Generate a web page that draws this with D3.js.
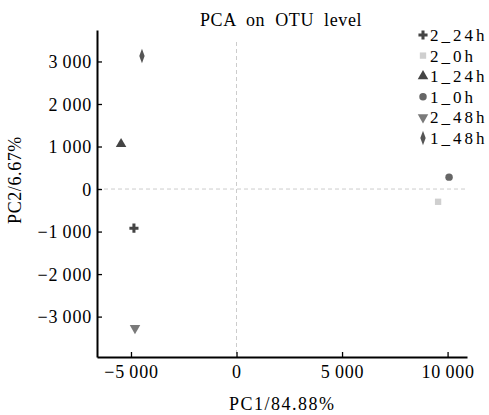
<!DOCTYPE html>
<html>
<head>
<meta charset="utf-8">
<script src="https://cdn.jsdelivr.net/npm/d3@7"></script>
<style>
body{margin:0;background:#fff;}
svg text{font-family:"Liberation Serif","Times New Roman",Times,"DejaVu Serif",serif !important;fill:#000;}
</style>
</head>
<body>
<script>
// samples as drawn in the legend order
var groups = ['2_24h','2_0h','1_24h','1_0h','2_48h','1_48h'];
var pc1 = [-4860, 9550, -5470, 10070, -4810, -4480];
var pc2 = [-920, -300, 1060, 280, -3270, 3130];
var xticks = [-5000, 0, 5000, 10000];
var yticks = [-3000, -2000, -1000, 0, 1000, 2000, 3000];

var colors = {'2_24h':'#444','2_0h':'#cfcfcf','1_24h':'#444','1_0h':'#666','2_48h':'#7a7a7a','1_48h':'#555'};

var W = 489, H = 415;
var svg = d3.select('body').append('svg').attr('width', W).attr('height', H);

var x = d3.scaleLinear().domain([-6610, 10920]).range([97, 467]);
var y = d3.scaleLinear().domain([-3950, 3740]).range([357, 30]);

var fmt = function(v){
	var s = d3.format(',')(Math.abs(v)).replace(/,/g, '\u2009');
	return (v < 0 ? '\u2212' : '') + s;
};

// zero reference lines
svg.append('line').attr('x1', x(0)).attr('x2', x(0)).attr('y1', 42).attr('y2', y.range()[0])
	.attr('stroke', '#ccc').attr('stroke-dasharray', '4,3');
svg.append('line').attr('x1', x.range()[0]).attr('x2', x.range()[1]).attr('y1', y(0)).attr('y2', y(0))
	.attr('stroke', '#ccc').attr('stroke-dasharray', '4,3');

var gx = svg.append('g').attr('transform', 'translate(0,357)')
	.call(d3.axisBottom(x).tickValues(xticks).tickSizeInner(-5).tickSizeOuter(0).tickFormat(fmt));
var gy = svg.append('g').attr('transform', 'translate(97,0)')
	.call(d3.axisLeft(y).tickValues(yticks).tickSizeInner(-5).tickSizeOuter(0).tickFormat(fmt));

[gx, gy].forEach(function(g){
	g.attr('font-family', null).attr('font-size', null);
	g.select('.domain').attr('stroke', '#000').attr('stroke-width', 2);
	g.selectAll('.tick line').attr('stroke', '#000').attr('stroke-width', 1.3);
	g.selectAll('.tick text').style('font-size', '18px').attr('letter-spacing', 0.8);
});
gx.selectAll('.tick text').attr('y', 8);
gy.selectAll('.tick text').attr('x', -5).attr('dy', '0.35em');

function marker(name){
	var sym = {
		'2_24h': d3.symbolCross, '2_0h': d3.symbolSquare, '1_24h': d3.symbolTriangle,
		'1_0h': d3.symbolCircle, '2_48h': d3.symbolTriangle, '1_48h': d3.symbolDiamond
	}[name];
	var size = {'2_24h':46,'2_0h':40,'1_24h':48,'1_0h':44,'2_48h':48,'1_48h':50}[name];
	return d3.symbol().type(sym).size(size)();
}
function markerTransform(name){
	if (name == '2_48h') return ' rotate(180)';
	if (name == '1_48h') return ' scale(0.7,1.1)';
	return '';
}

var pts = groups.map(function(g, i){ return {name:g, x:pc1[i], y:pc2[i]}; });
svg.append('g').selectAll('path').data(pts).enter().append('path')
	.attr('d', d => marker(d.name))
	.attr('fill', d => colors[d.name])
	.attr('transform', d => 'translate(' + x(d.x) + ',' + y(d.y) + ')' + markerTransform(d.name));

// legend
var leg = svg.append('g').selectAll('g').data(groups).enter().append('g')
	.attr('transform', (d, i) => 'translate(423,' + (35 + i * 20.6) + ')');
leg.append('path').attr('d', d => marker(d))
	.attr('fill', d => colors[d])
	.attr('transform', d => 'translate(0,0)' + markerTransform(d));
leg.append('text').attr('x', 7).attr('dy', '0.35em').style('font-size', '17px')
	.attr('letter-spacing', 3).text(d => d);

svg.append('text').attr('x', 200).attr('y', 26)
	.style('font-size', '18px').attr('word-spacing', 5).attr('letter-spacing', 0.6).text('PCA on OTU level');
svg.append('text').attr('x', 229).attr('y', 410)
	.style('font-size', '18px').attr('letter-spacing', 1.5).text('PC1/84.88%');
svg.append('text').attr('transform', 'translate(21,180) rotate(-90)').attr('text-anchor', 'middle')
	.style('font-size', '18px').attr('letter-spacing', 0.6).text('PC2/6.67%');
</script>
</body>
</html>
